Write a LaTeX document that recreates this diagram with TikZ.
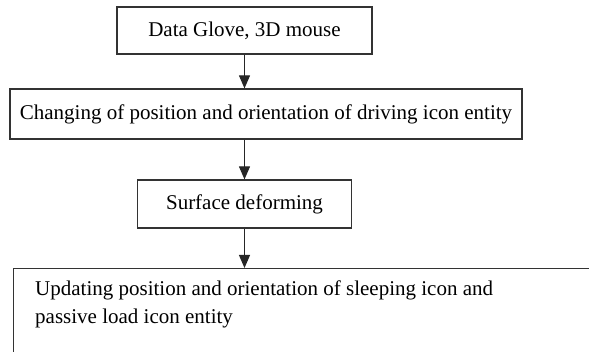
\documentclass[tikz,border=0pt]{standalone}
\usepackage{fontspec}
\setmainfont{Liberation Serif}
\usetikzlibrary{arrows.meta}
\begin{document}
\begin{tikzpicture}[x=1pt,y=1pt,
  box/.style={draw=black!80,line width=1.2pt,rectangle,inner sep=0pt,
    font=\fontsize{21}{26}\selectfont},
  flow/.style={draw=black!85,line width=1.1pt,-{Triangle[length=13pt,width=11pt]}}]
\useasboundingbox (0,0) rectangle (589,-352);
\clip (0,0) rectangle (589,-352);
\node[box,minimum width=255pt,minimum height=47pt] (glove) at (244.5,-30.5) {Data Glove, 3D mouse};
\node[box,minimum width=512pt,minimum height=50pt] (pose) at (266,-114) {Changing of position and orientation of driving icon entity};
\node[box,minimum width=214pt,minimum height=48pt] (surf) at (244.5,-204) {Surface deforming};
\node[box,minimum width=640pt,minimum height=140pt,anchor=north west] (upd) at (13,-268) {};
\node[font=\fontsize{21}{28}\selectfont,anchor=north west,align=left,inner sep=0pt] (updtext) at (35,-281)
  {Updating position and orientation of sleeping icon and\\passive load icon entity};
\draw[flow] (glove.south) -- (glove.south |- pose.north);
\draw[flow] (glove.south |- pose.south) -- (surf.north);
\draw[flow] (surf.south) -- (surf.south |- upd.north);
\end{tikzpicture}
\end{document}
